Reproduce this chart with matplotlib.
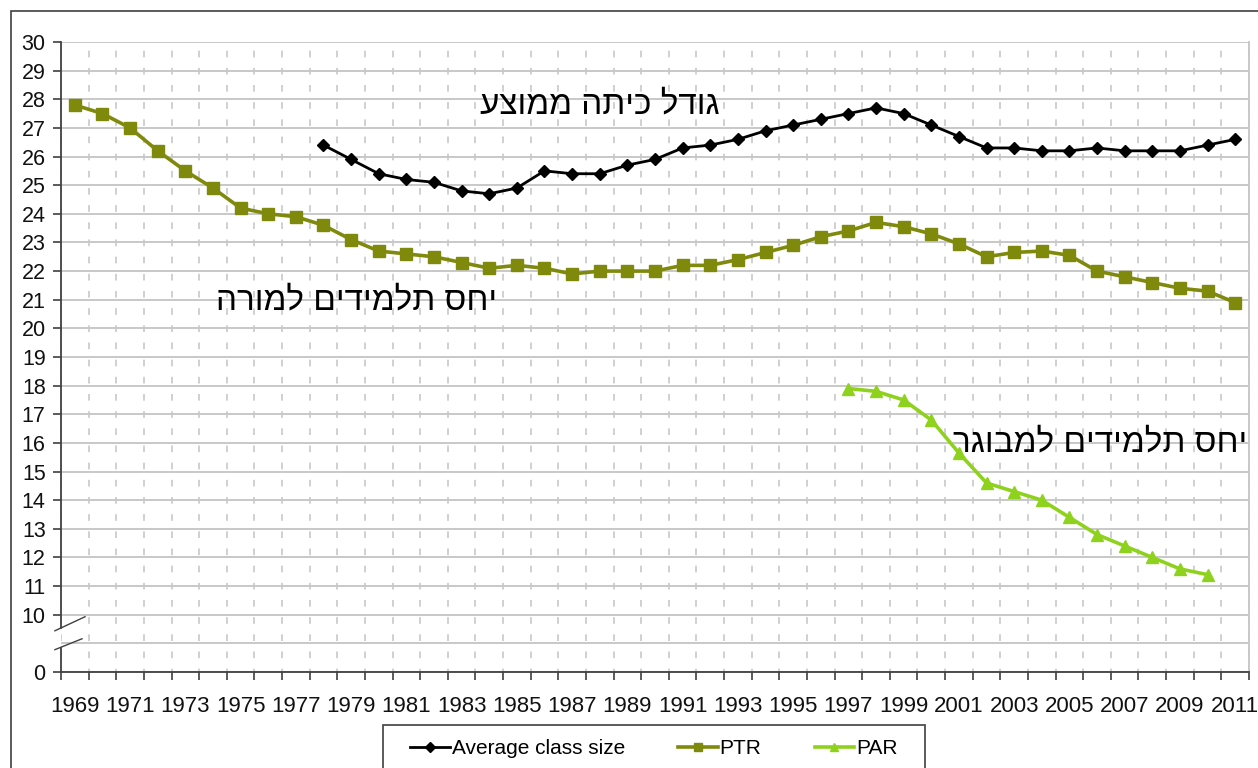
import numpy as np
import matplotlib
matplotlib.use("Agg")
from matplotlib import pyplot as plt
from matplotlib.patches import Rectangle

plt.rcParams["font.family"] = ["Liberation Sans", "DejaVu Sans"]

years = list(range(1969, 2012))

class_years = list(range(1978, 2012))
class_size = [26.4, 25.9, 25.4, 25.2, 25.1, 24.8, 24.7, 24.9, 25.5, 25.4,
              25.4, 25.7, 25.9, 26.3, 26.4, 26.6, 26.9, 27.1, 27.3, 27.5,
              27.7, 27.5, 27.1, 26.7, 26.3, 26.3, 26.2, 26.2, 26.3, 26.2,
              26.2, 26.2, 26.4, 26.6]

ptr_years = list(range(1969, 2012))
ptr = [27.8, 27.5, 27.0, 26.2, 25.5, 24.9, 24.2, 24.0, 23.9, 23.6,
       23.1, 22.7, 22.6, 22.5, 22.3, 22.1, 22.2, 22.1, 21.9, 22.0,
       22.0, 22.0, 22.2, 22.2, 22.4, 22.65, 22.9, 23.2, 23.4, 23.7,
       23.55, 23.3, 22.95, 22.5, 22.65, 22.7, 22.55, 22.0, 21.8, 21.6,
       21.4, 21.3, 20.9]

par_years = list(range(1997, 2011))
par = [17.9, 17.8, 17.5, 16.8, 15.65, 14.6, 14.3, 14.0, 13.4, 12.8,
       12.4, 12.0, 11.6, 11.4]

# hebrew labels (logical order), reversed when drawn since mpl has no bidi
lbl_class = "גודל כיתה ממוצע"
lbl_ptr = "יחס תלמידים למורה"
lbl_par = "יחס תלמידים למבוגר"

fig = plt.figure(figsize=(12.58, 7.68), dpi=100)
ax = fig.add_axes([61/1258, 1-672/768, (1249-61)/1258, (672-42)/768])

grid_c = "#c8c8c8"
axis_c = "#404040"

ax.plot(class_years, class_size, color="black", lw=2.0, marker="D",
        ms=6, label="Average class size", zorder=5)
ax.plot(ptr_years, ptr, color="#7f8a0c", lw=2.6, marker="s",
        ms=8, label="PTR", zorder=5)
ax.plot(par_years, par, color="#8fd21e", lw=2.6, marker="^",
        ms=8, label="PAR", zorder=5)

ax.set_xlim(1968.5, 2011.5)
ax.set_ylim(8, 30)

yt = [8] + list(range(10, 31))
ax.set_yticks(yt)
ax.set_yticklabels(["0"] + [str(v) for v in range(10, 31)])
ax.set_yticks([9], minor=True)

ax.set_xticks(years[::2])
ax.set_xticklabels([str(y) for y in years[::2]])
ax.set_xticks(np.arange(1968.5, 2012, 1.0), minor=True)

ax.tick_params(axis="x", which="major", length=0, labelsize=16, pad=17,
               labelcolor="#111111")
ax.tick_params(axis="x", which="minor", length=6, width=1.2, color=axis_c,
               direction="out")
ax.tick_params(axis="y", which="major", length=6, width=1.2, color=axis_c,
               labelsize=15.5, pad=5, labelcolor="#111111")
ax.tick_params(axis="y", which="minor", length=0)

ax.grid(axis="y", which="both", color=grid_c, lw=1.4, ls="-")
ax.grid(axis="x", which="major", visible=False)
ax.grid(axis="x", which="minor", color=grid_c, lw=1.2, ls=(2, (4, 6.3)))
ax.set_axisbelow(True)

ax.spines["top"].set_visible(False)
ax.spines["right"].set_color(grid_c)
ax.spines["right"].set_linewidth(1.4)
ax.spines["bottom"].set_color(axis_c)
ax.spines["bottom"].set_linewidth(1.3)
ax.spines["left"].set_visible(False)

# broken left axis
ax.plot([1968.5, 1968.5], [9.55, 30], color=axis_c, lw=1.3, clip_on=False)
ax.plot([1968.5, 1968.5], [8, 8.85], color=axis_c, lw=1.3, clip_on=False)
ax.plot([1968.28, 1969.37], [9.44, 9.93], color=axis_c, lw=1.0, clip_on=False)
ax.plot([1968.28, 1969.26], [8.78, 9.16], color=axis_c, lw=1.0, clip_on=False)

ax.text(1988.0, 27.8, lbl_class[::-1], fontsize=24, ha="center", va="center")
ax.text(1979.2, 20.95, lbl_ptr[::-1], fontsize=24, ha="center", va="center")
ax.text(2000.8, 16.0, lbl_par[::-1], fontsize=24, ha="left", va="center",
        clip_on=False)

leg = fig.legend(loc="upper left", bbox_to_anchor=(410/1258, 1-739/768),
                 ncol=3, fontsize=15, frameon=False, handlelength=1.9,
                 handletextpad=0.1, columnspacing=2.55, borderpad=0,
                 borderaxespad=0, markerscale=0.8)

# legend box drawn by hand so the padding matches
fig.patches.append(Rectangle((383/1258, -0.1), (925-383)/1258, 0.1 + 1-725/768,
                             transform=fig.transFigure, fill=False,
                             edgecolor=axis_c, lw=1.2))
# outer chart frame
fig.patches.append(Rectangle((11/1258, -0.1), 1.2, 1.1 - 11/768,
                             transform=fig.transFigure, fill=False,
                             edgecolor=axis_c, lw=1.2))

fig.savefig("out.png", dpi=100)
